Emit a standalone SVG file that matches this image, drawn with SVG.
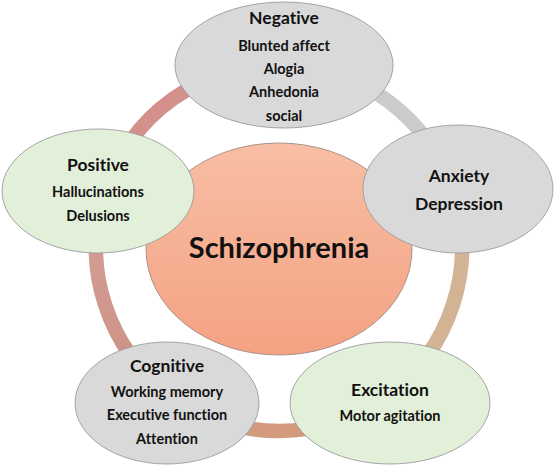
<svg xmlns="http://www.w3.org/2000/svg" width="556" height="467" viewBox="0 0 556 467">
<style>
.arc{fill:none;stroke-width:14.5}
.gray{fill:#D9D9D9;stroke:#9C9C9C;stroke-width:0.9}
.green{fill:#E2EFD9;stroke:#9C9C9C;stroke-width:0.9}
text{font-family:Lato,"Liberation Sans",Arial,sans-serif;font-weight:bold;fill:#111;text-anchor:middle;font-variant-ligatures:none}
.h{font-size:17.5px}
.s{font-size:14.5px}
.t{font-size:29px}
</style>
<defs>
<linearGradient id="core" x1="0" y1="0" x2="0" y2="1">
<stop offset="0" stop-color="#F8BEA4"/>
<stop offset="1" stop-color="#F4A283"/>
</linearGradient>
<linearGradient id="leftArc" x1="0" y1="0" x2="0" y2="1">
<stop offset="0" stop-color="#D4A29C"/>
<stop offset="1" stop-color="#CC8F82"/>
</linearGradient>
</defs>
<g id="connectors">
<path class="arc" stroke="#D4918C" d="M104.5 193 A183 183 0 0 1 284.1 65.1"/>
<path class="arc" stroke="#CBCBCB" d="M284.1 65.1 A183 183 0 0 1 453 191.4"/>
<path class="arc" stroke="#D2B393" d="M453 191.4 A183 183 0 0 1 386.6 396"/>
<path class="arc" stroke="#D39A7D" d="M386.6 396 A183 183 0 0 1 171.4 396"/>
<path class="arc" stroke="url(#leftArc)" d="M171.4 396 A183 183 0 0 1 104.5 193"/>
</g>
<g id="schizophrenia">
<ellipse cx="279" cy="249" rx="133" ry="106" fill="url(#core)" stroke="#A08C84" stroke-width="0.9"/>
<text class="t" x="279" y="258">Schizophrenia</text>
</g>
<g id="negative">
<ellipse class="gray" cx="284" cy="65" rx="109" ry="63"/>
<text class="h" x="284" y="24">Negative</text>
<text class="s" x="284" y="51">Blunted affect</text>
<text class="s" x="284" y="74">Alogia</text>
<text class="s" x="284" y="97">Anhedonia</text>
<text class="s" x="284" y="120.5">social</text>
</g>
<g id="positive">
<ellipse class="green" cx="98" cy="191" rx="96" ry="62"/>
<text class="h" x="98" y="171">Positive</text>
<text class="s" x="98" y="197">Hallucinations</text>
<text class="s" x="98" y="221">Delusions</text>
</g>
<g id="anxiety">
<ellipse class="gray" cx="458" cy="189" rx="95" ry="64"/>
<text class="h" x="459" y="182">Anxiety</text>
<text class="h" x="459" y="210">Depression</text>
</g>
<g id="cognitive">
<ellipse class="gray" cx="167" cy="403" rx="92" ry="61"/>
<text class="h" x="167" y="372">Cognitive</text>
<text class="s" x="167" y="397">Working memory</text>
<text class="s" x="167" y="420">Executive function</text>
<text class="s" x="167" y="444">Attention</text>
</g>
<g id="excitation">
<ellipse class="green" cx="390" cy="403" rx="100" ry="61"/>
<text class="h" x="390" y="396">Excitation</text>
<text class="s" x="390" y="421">Motor agitation</text>
</g>
</svg>
